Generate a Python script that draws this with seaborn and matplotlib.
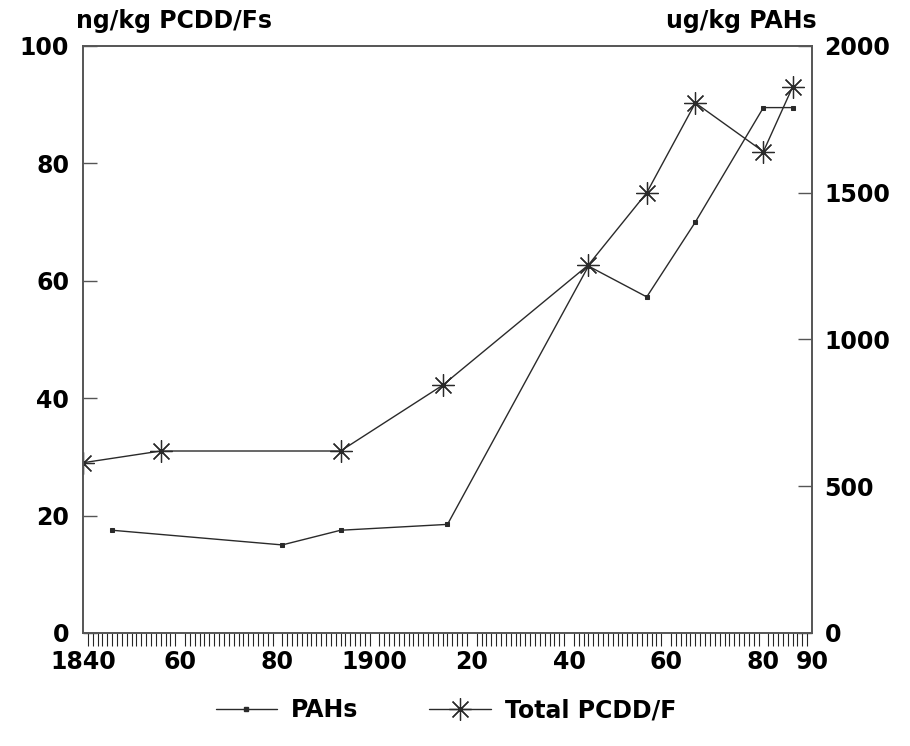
import numpy as np
import pandas as pd
import matplotlib
matplotlib.use('Agg')
import matplotlib.pyplot as plt
import seaborn as sns
from matplotlib.ticker import MultipleLocator, FixedLocator
from matplotlib.lines import Line2D

# PCDD/F totals (ng/kg, left axis)
pcdd_years = [1840, 1856, 1893, 1914, 1944, 1956, 1966, 1980, 1986]
pcdd_values = [29.0, 31.0, 31.0, 42.2, 62.7, 75.0, 90.3, 82.0, 93.0]

# PAHs (ug/kg, right axis)
pah_years = [1846, 1881, 1893, 1915, 1944, 1956, 1966, 1980, 1986]
pah_values = [350, 300, 350, 370, 1250, 1145, 1400, 1790, 1790]

x_ticks = [1840, 1860, 1880, 1900, 1920, 1940, 1960, 1980, 1990]
x_labels = ['1840', '60', '80', '1900', '20', '40', '60', '80', '90']

sns.set_style('white')
plt.rcParams['font.family'] = ['DejaVu Sans']
plt.rcParams['font.weight'] = 'bold'
plt.rcParams['text.color'] = 'black'

line_color = '#2a2a2a'
fs = 17

df_pcdd = pd.DataFrame({'year': pcdd_years, 'value': pcdd_values})
df_pah = pd.DataFrame({'year': pah_years, 'value': pah_values})

fig = plt.figure(figsize=(9.1, 7.46), dpi=100)
ax = fig.add_axes([0.0912, 0.1515, 0.8011, 0.7869])
ax2 = ax.twinx()

sns.lineplot(data=df_pcdd, x='year', y='value', ax=ax, color=line_color,
             linewidth=1.0, marker=(8, 2, 0), markersize=16,
             markeredgewidth=0.9, markeredgecolor=line_color, legend=False)
sns.lineplot(data=df_pah, x='year', y='value', ax=ax2, color=line_color,
             linewidth=1.0, marker='s', markersize=3.5,
             markeredgecolor=line_color, legend=False)

ax.set_xlim(1840, 1990)
ax.set_ylim(0, 100)
ax2.set_ylim(0, 2000)

ax.xaxis.set_major_locator(FixedLocator(x_ticks))
ax.set_xticklabels(x_labels)
ax.xaxis.set_minor_locator(MultipleLocator(1))
ax.set_yticks([0, 20, 40, 60, 80, 100])
ax2.set_yticks([0, 500, 1000, 1500, 2000])

for a in (ax, ax2):
    a.set_xlabel('')
    a.set_ylabel('')
    for s in a.spines.values():
        s.set_color('#555555')
        s.set_linewidth(1.2)
    a.tick_params(direction='in', labelsize=fs, colors='#555555',
                  labelcolor='black')

ax.tick_params(axis='y', which='major', length=10, width=1.0, pad=10)
ax2.tick_params(axis='y', which='major', length=10, width=1.0, pad=9)
ax.tick_params(axis='x', which='major', length=9, width=1.0, pad=12)
ax.tick_params(axis='x', which='minor', length=9, width=0.8, bottom=True)

fig.text(0.083, 0.972, 'ng/kg PCDD/Fs', fontsize=fs, fontweight='bold',
         color='black', ha='left', va='center')
fig.text(0.897, 0.972, 'ug/kg PAHs', fontsize=fs, fontweight='bold',
         color='black', ha='right', va='center')

handles = [
    Line2D([], [], color=line_color, linewidth=1.0, marker='s', markersize=3.5),
    Line2D([], [], color=line_color, linewidth=1.0, marker=(8, 2, 0),
           markersize=16, markeredgewidth=0.9),
]
leg = fig.legend(handles, ['PAHs', 'Total PCDD/F'], loc='center',
                 bbox_to_anchor=(0.49, 0.048), ncol=2, frameon=False,
                 fontsize=fs, handlelength=2.6, handletextpad=0.6,
                 columnspacing=3.0)
for t in leg.get_texts():
    t.set_color('black')

fig.savefig('out.png', dpi=100, facecolor='white')
